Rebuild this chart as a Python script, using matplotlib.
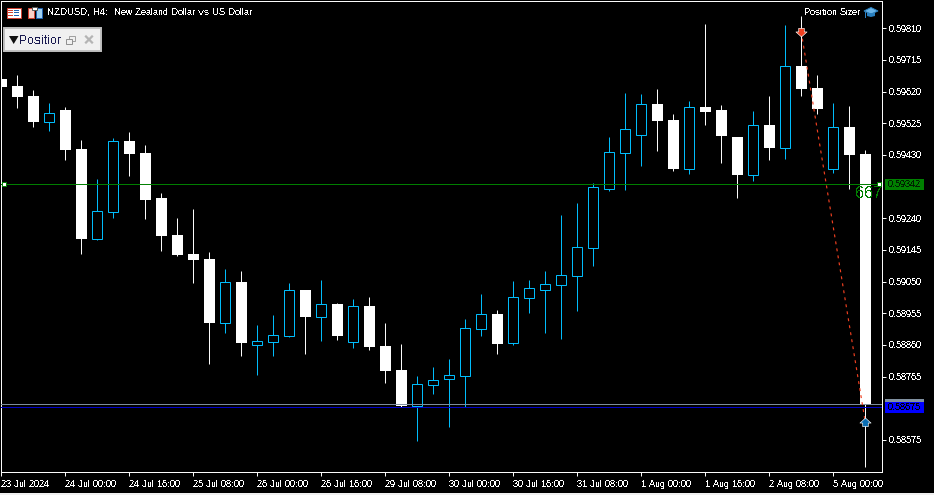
import matplotlib
matplotlib.use("Agg")
import matplotlib.pyplot as plt
from matplotlib.patches import Rectangle, Polygon
from matplotlib.path import Path

plt.rcParams['font.family'] = ['Liberation Sans', 'DejaVu Sans']
plt.rcParams['text.antialiased'] = False
plt.rcParams['text.hinting'] = 'native'
plt.rcParams['text.hinting_factor'] = 1

# 0 = bearish (white), 1 = bullish (blue)
bullish = [0,0,0,1,0,0,1,1,0,0,0,0,0,0,1,0,1,1,1,0,1,0,1,0,0,0,1,1,1,1,1,0,1,1,1,1,1,1,1,1,1,0,0,1,0,0,0,1,0,1,0,0,1,0,0]
highs = [.596705,.596705,.596255,.595865,.595745,.594755,.593585,.594815,.594995,.594605,.593165,.592415,.592685,.591395,.590885,.590825,.589205,.589505,.590465,.590255,.590555,.589865,.589985,.590045,.589265,.588635,.587675,.587945,.588185,.589385,.590135,.589655,.590525,.590555,.590825,.592505,.592865,.593465,.594845,.596165,.596135,.596285,.595535,.595925,.598235,.595805,.594845,.595625,.596075,.598205,.598475,.596705,.595865,.595775,.594455]
lows = [.596255,.595715,.595145,.595025,.594155,.591335,.591755,.592415,.593675,.592385,.591425,.591275,.590465,.588035,.588965,.588275,.587705,.588275,.588845,.588335,.588725,.588755,.588515,.588455,.587465,.586745,.585725,.587135,.586145,.586745,.588875,.588335,.588605,.589565,.588965,.588785,.589625,.590975,.593225,.593255,.593975,.594425,.593825,.593735,.595205,.594065,.593015,.593525,.594155,.594185,.596075,.595535,.593765,.593285,.584945]
body_top = [.596585,.596375,.596075,.595565,.595655,.594485,.592625,.594725,.594725,.594365,.593015,.591905,.591335,.591185,.590495,.590495,.588725,.588905,.590255,.590255,.589835,.589835,.589775,.589775,.588575,.587855,.587435,.587555,.587705,.589115,.589535,.589535,.590045,.590315,.590435,.590705,.591545,.593345,.594395,.595085,.595835,.595835,.595355,.595745,.595745,.595655,.594845,.595205,.595205,.596975,.596975,.596315,.595145,.595145,.594335]
body_bottom = [.596345,.596045,.595295,.595295,.594455,.591785,.591785,.592595,.594335,.592955,.591875,.591305,.591155,.589265,.589265,.588665,.588605,.588695,.588875,.589445,.589445,.588875,.588695,.588545,.587825,.586775,.586775,.587405,.587585,.587675,.589085,.588635,.588665,.590015,.590255,.590405,.590675,.591515,.593285,.594365,.594905,.595325,.593885,.593885,.595595,.594875,.593705,.593705,.594515,.594515,.596285,.595685,.593885,.594305,.586805]

price_ticks = [0.59810,0.59715,0.59620,0.59525,0.59430,0.59240,0.59145,0.59050,0.58955,0.58860,0.58765,0.58575]
time_ticks = [0,4,8,12,16,20,24,28,32,36,40,44,48,52]
time_labels = ['23 Jul 2024','24 Jul 00:00','24 Jul 16:00','25 Jul 08:00','26 Jul 00:00','26 Jul 16:00',
               '29 Jul 08:00','30 Jul 00:00','30 Jul 16:00','31 Jul 08:00','1 Aug 00:00','1 Aug 16:00',
               '2 Aug 08:00','5 Aug 00:00']

bid_price = 0.59342
bid_label = '0.59342'
gray_price = 0.58682
blue_price = 0.58675
blue_label = '0.58675'
trade_x = [50, 54]
trade_y = [0.597995, 0.586295]
title_text = 'NZDUSD, H4:  New Zealand Dollar vs US Dollar'
sizer_text = 'Position Sizer'
panel_text = 'Position Sizer'
spread_text = '667'

W, H = 934, 495
BLUE = '#00BFFF'
PX = 0.71
FS = 6.5
fig = plt.figure(figsize=(W/100, H/100), dpi=100, facecolor='black')
ax = fig.add_axes([1.2/W, (H-472.2)/H, 881/W, 471/H], facecolor='black')
ax.set_xlim(0, 881/16)
ax.set_ylim(0.58478, 0.59891)

xs = list(range(len(highs)))
for x, up, hi, lo, top, bot in zip(xs, bullish, highs, lows, body_top, body_bottom):
    c = BLUE if up else 'white'
    ax.vlines(x, lo, hi, color=c, lw=PX, zorder=2)
    if up:
        ax.bar(x, top-bot, bottom=bot, width=10/16, facecolor='black', edgecolor=c, lw=PX, zorder=3)
    else:
        ax.bar(x, top-bot, bottom=bot, width=11/16, facecolor='white', edgecolor='none', zorder=3)

ax.axhline(bid_price, color='#008000', lw=PX, zorder=4)
ax.axhline(gray_price, color='#8090A0', lw=PX, zorder=4)
ax.axhline(blue_price, color='#0000CC', lw=PX, zorder=4)
ax.plot(trade_x, trade_y, color='#F04020', lw=0.85, dashes=(2.5, 3.5), zorder=5)

down = Path([(-.5,.75),(.5,.75),(.5,.1),(1,.1),(0,-.8),(-1,.1),(-.5,.1),(-.5,.75)], closed=True)
up_m = Path([(-.5,-.75),(.5,-.75),(.5,-.1),(1,-.1),(0,.8),(-1,-.1),(-.5,-.1),(-.5,-.75)], closed=True)
ax.plot(trade_x[0], trade_y[0], marker=down, ms=8, mfc='#F04020', mec='white', mew=0.45, zorder=6)
ax.plot(trade_x[1], trade_y[1], marker=up_m, ms=8, mfc='#0A6EB4', mec='white', mew=0.45, zorder=6)

for s in ax.spines.values():
    s.set_color('white'); s.set_linewidth(PX)
ax.yaxis.tick_right()
ax.set_yticks(price_ticks, [f'{p:.5f}' for p in price_ticks])
ax.set_xticks(time_ticks, time_labels, ha='left')
ax.tick_params(axis='both', colors='white', length=3.2, width=PX, labelsize=FS, pad=1.5)
ax.tick_params(axis='x', pad=2.2)

# overlay in pixel units for the terminal's interface furniture
ov = fig.add_axes([0, 0, 1, 1], facecolor='none', zorder=10)
ov.set_xlim(0, W); ov.set_ylim(H, 0); ov.axis('off')

def rect(x0, y0, x1, y1, fc='none', ec='none', lw=0, z=1):
    p = Rectangle((x0, y0), x1-x0, y1-y0, facecolor=fc, edgecolor=ec, lw=lw, zorder=z)
    ov.add_patch(p); return p

rect(0, 492.7, W, H, fc='#F0F0F0')

ov.text(47, 12.5, title_text, color='white', fontsize=FS, va='center', ha='left')
ov.text(860, 12.5, sizer_text, color='white', fontsize=FS, va='center', ha='right')

# chart icons
rect(6.5, 7.5, 20.5, 17.5, fc='white', ec='#D04030', lw=PX)
for yy in (10, 12.5, 15):
    rect(8, yy-.5, 13, yy+.5, fc='#D04030')
    rect(14, yy-.5, 19, yy+.5, fc='#2060B0')
rect(27.5, 7.5, 34, 17.5, fc='#F8D0C8', ec='#D04030', lw=PX)
rect(35.5, 7.5, 41.5, 17.5, fc='#A0D0F0', ec='#2060B0', lw=PX)
rect(32, 6.5, 37, 10, fc='white', ec='#555555', lw=PX)
ov.add_patch(Polygon([(864,11),(871,7.5),(878,11),(871,14)], facecolor='#6AB4E8', edgecolor='#2A80C0', lw=PX))
ov.add_patch(Polygon([(867,13),(875,13),(875,16),(871,17),(867,16)], facecolor='#2A80C0', edgecolor='none'))
rect(864.5, 12, 865.5, 18, fc='#2A80C0')

# panel
rect(4, 27.5, 101, 51, fc='#F0F0F0', ec='#C0C0C0', lw=1.4)
ov.add_patch(Polygon([(9,36),(18.5,36),(13.7,44)], facecolor='#101010', edgecolor='none'))
clip = rect(18, 30, 61, 49, z=0)
t = ov.text(19, 40, panel_text, color='#1A1A50', fontsize=8.6, va='center', ha='left', clip_on=True)
t.set_clip_path(clip)
rect(68.5, 35.5, 74.5, 40.5, ec='#A0A0A0', lw=PX)
rect(65.5, 38.5, 71.5, 43.5, fc='#F0F0F0', ec='#909090', lw=PX, z=2)
ov.plot([86, 92], [36.5, 42.5], color='#B4B4B4', lw=1.6)
ov.plot([86, 92], [42.5, 36.5], color='#B4B4B4', lw=1.6)

# price tags
rect(885, 179, 924, 190, fc='#008000')
ov.text(888, 184.8, bid_label, color='#002000', fontsize=FS, va='center', ha='left')
rect(885, 399, 924, 410, fc='#8090A0', z=2)
rect(885, 402, 924, 413, fc='#0000FF', z=4)
ov.text(888, 407.8, blue_label, color='black', fontsize=FS, va='center', ha='left', zorder=5)

# handles on the bid line
rect(2, 182, 6, 186, fc='white', ec='#008000', lw=PX)
rect(877, 182, 881, 186, fc='white', ec='#008000', lw=PX)

ov.text(855, 193, spread_text, color='#008000', fontsize=11.5, va='center', ha='left', zorder=6)

fig.savefig('out.png', dpi=100, facecolor='black')
